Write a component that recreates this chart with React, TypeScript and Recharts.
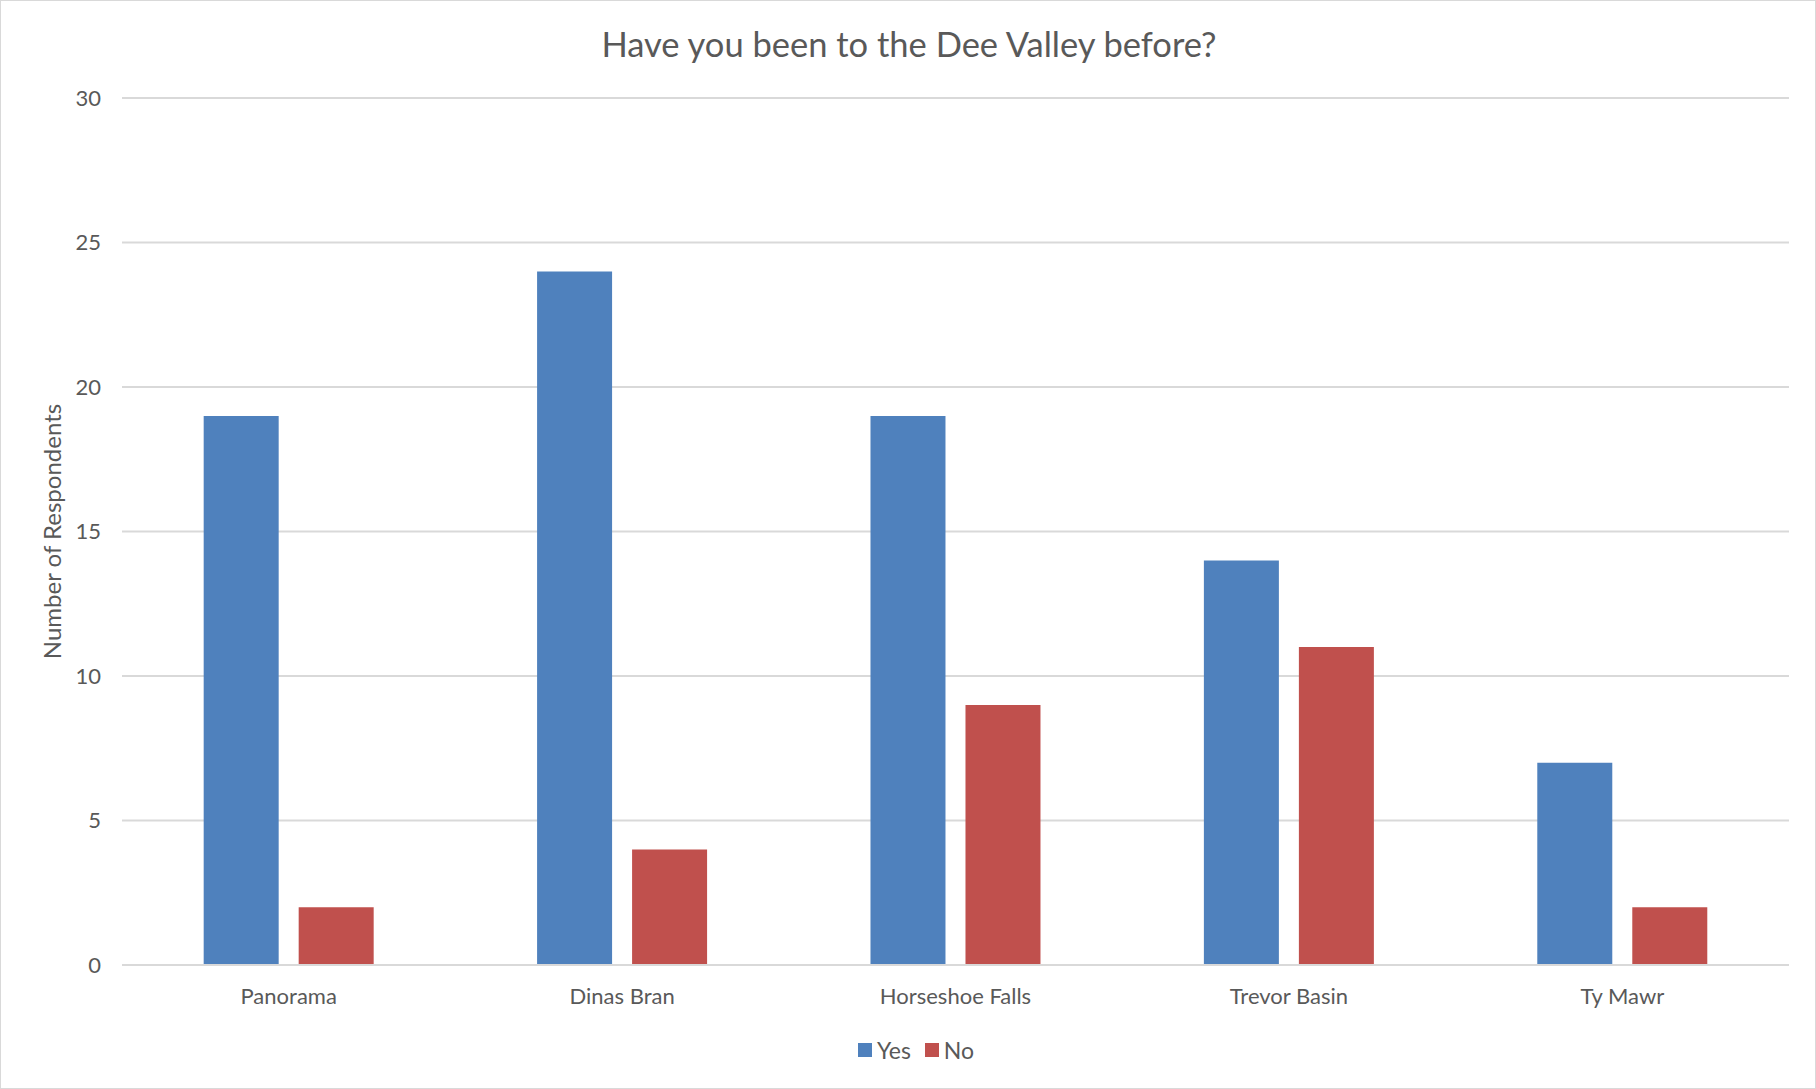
import { BarChart, Bar, XAxis, YAxis, CartesianGrid, Legend } from 'recharts';

const sites = ['Panorama', 'Dinas Bran', 'Horseshoe Falls', 'Trevor Basin', 'Ty Mawr'];
const yesCounts = [19, 24, 19, 14, 7];
const noCounts = [2, 4, 9, 11, 2];
const yTicks = [0, 5, 10, 15, 20, 25, 30];

const FONT = 'Lato, "Open Sans", sans-serif';
const TEXT = '#595959';
const COLORS: Record<string, string> = { Yes: '#4f81bd', No: '#c0504d' };
const seriesOrder = ['Yes', 'No'];

function ExcelLegend() {
  return (
    <div
      style={{
        display: 'flex',
        justifyContent: 'center',
        alignItems: 'center',
        gap: 14,
        fontSize: 23,
        color: TEXT,
        fontFamily: FONT,
        paddingLeft: 16,
      }}
    >
      {seriesOrder.map((s) => (
        <span key={s} style={{ display: 'inline-flex', alignItems: 'center', gap: 5 }}>
          <span style={{ width: 14, height: 14, background: COLORS[s], display: 'inline-block' }} />
          {s}
        </span>
      ))}
    </div>
  );
}

export default function App() {
  const data = sites.map((name, i) => ({
    name,
    Yes: yesCounts[i],
    No: noCounts[i],
  }));

  return (
    <div
      style={{
        position: 'absolute',
        left: 0,
        top: 0,
        width: 1816,
        height: 1089,
        boxSizing: 'border-box',
        border: '1px solid #d9d9d9',
        background: '#fff',
        fontFamily: FONT,
      }}
    >
      {/* Title */}
      <div
        style={{
          position: 'absolute',
          top: 22,
          left: 0,
          width: 1816,
          textAlign: 'center',
          fontSize: 34.5,
          color: TEXT,
          lineHeight: '42px',
        }}
      >
        Have you been to the Dee Valley before?
      </div>

      <BarChart
        width={1814}
        height={1087}
        data={data}
        margin={{ top: 97, right: 26, bottom: 65, left: 0 }}
        barGap={20}
        barCategoryGap="24.5%"
        style={{ fontFamily: FONT }}
      >
        <CartesianGrid vertical={false} stroke="#d9d9d9" strokeWidth={2} />
        <XAxis
          dataKey="name"
          tickLine={false}
          axisLine={{ stroke: '#d9d9d9', strokeWidth: 2 }}
          tickSize={0}
          tickMargin={23}
          tick={{ fill: TEXT, fontSize: 22 }}
        />
        <YAxis
          width={121}
          domain={[0, 30]}
          ticks={yTicks}
          tickLine={false}
          axisLine={false}
          tickSize={0}
          tickMargin={21}
          tick={{ fill: TEXT, fontSize: 22 }}
          label={{
            value: 'Number of Respondents',
            angle: -90,
            position: 'center',
            dx: -9,
            fill: TEXT,
            fontSize: 24,
          }}
        />
        <Legend
          verticalAlign="bottom"
          content={<ExcelLegend />}
          wrapperStyle={{ bottom: 24, left: 0, width: 1814, height: 28 }}
        />
        <Bar dataKey="Yes" fill={COLORS.Yes} isAnimationActive={false} />
        <Bar dataKey="No" fill={COLORS.No} isAnimationActive={false} />
      </BarChart>
    </div>
  );
}
